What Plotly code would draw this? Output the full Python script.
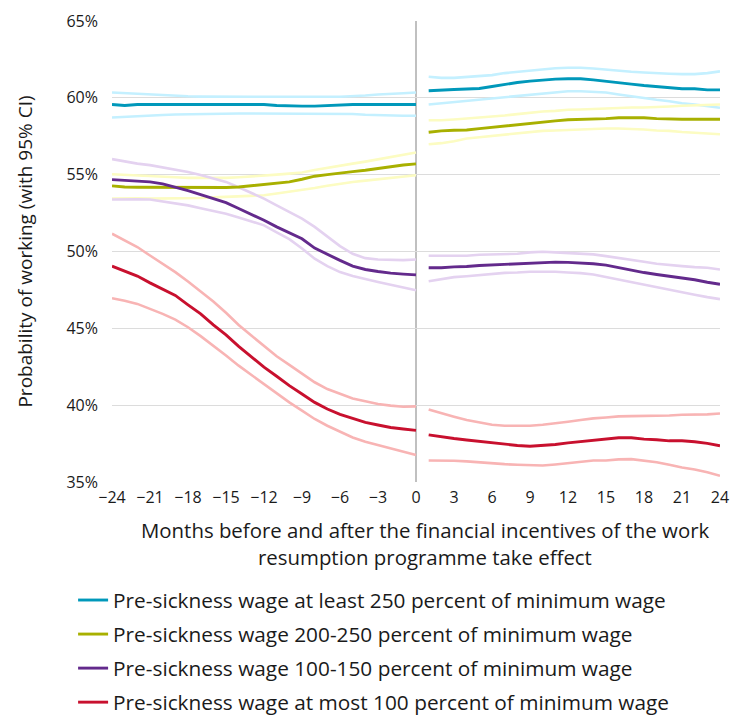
import plotly.graph_objects as go

# ---------------- data ----------------
months_pre = list(range(-24, 1))
months_post = list(range(1, 25))
x_ticks = list(range(-24, 25, 3))
y_ticks = [35, 40, 45, 50, 55, 60, 65]
y_tick_labels = ["35%", "40%", "45%", "50%", "55%", "60%", "65%"]

labels = [
    "Pre-sickness wage at least 250 percent of minimum wage",
    "Pre-sickness wage 200-250 percent of minimum wage",
    "Pre-sickness wage 100-150 percent of minimum wage",
    "Pre-sickness wage at most 100 percent of minimum wage",
]
x_title_lines = [
    "Months before and after the financial incentives of the work",
    "resumption programme take effect",
]
y_title = "Probability of working (with 95% CI)"

# >=250 %
w250_pre = [59.57, 59.50, 59.57, 59.57, 59.57, 59.57, 59.57, 59.57, 59.57, 59.57, 59.57, 59.57, 59.57,
            59.50, 59.46, 59.46, 59.46, 59.50, 59.57, 59.57, 59.57, 59.57, 59.57, 59.57, 59.57]
w250_pre_hi = [60.35, 60.30, 60.28, 60.22, 60.15, 60.12, 60.10, 60.08, 60.07, 60.07, 60.07, 60.07, 60.07,
               60.07, 60.06, 60.06, 60.06, 60.07, 60.07, 60.10, 60.15, 60.22, 60.28, 60.30, 60.35]
w250_pre_lo = [58.72, 58.75, 58.80, 58.83, 58.88, 58.92, 58.94, 58.96, 58.98, 58.98, 58.98, 58.98, 58.98,
               58.98, 58.98, 58.98, 58.98, 58.98, 58.98, 58.95, 58.90, 58.87, 58.84, 58.83, 58.83]
w250_post = [60.46, 60.52, 60.54, 60.57, 60.61, 60.74, 60.89, 61.00, 61.09, 61.17, 61.22, 61.24,
             61.24, 61.17, 61.09, 60.98, 60.89, 60.80, 60.74, 60.65, 60.59, 60.59, 60.52, 60.52]
w250_post_hi = [61.37, 61.30, 61.30, 61.35, 61.39, 61.48, 61.61, 61.70, 61.78, 61.87, 61.93, 61.96,
                61.96, 61.91, 61.83, 61.76, 61.70, 61.65, 61.63, 61.57, 61.54, 61.54, 61.61, 61.72]
w250_post_lo = [59.57, 59.65, 59.74, 59.80, 59.87, 59.96, 60.04, 60.13, 60.22, 60.30, 60.39, 60.43,
                60.43, 60.39, 60.35, 60.22, 60.09, 59.96, 59.87, 59.78, 59.65, 59.57, 59.48, 59.35]

# 200-250 %
w200_pre = [54.27, 54.20, 54.18, 54.18, 54.16, 54.14, 54.14, 54.14, 54.16, 54.16, 54.20, 54.27, 54.35,
            54.44, 54.53, 54.70, 54.90, 55.00, 55.12, 55.20, 55.29, 55.40, 55.55, 55.63, 55.70]
w200_pre_hi = [55.03, 54.98, 54.95, 54.92, 54.88, 54.83, 54.79, 54.78, 54.78, 54.79, 54.83, 54.88, 54.92,
               55.00, 55.07, 55.14, 55.30, 55.45, 55.60, 55.72, 55.85, 56.00, 56.15, 56.30, 56.44]
w200_pre_lo = [53.44, 53.46, 53.46, 53.44, 53.44, 53.44, 53.44, 53.48, 53.52, 53.55, 53.58, 53.62, 53.66,
               53.77, 53.88, 53.99, 54.13, 54.28, 54.42, 54.52, 54.61, 54.70, 54.80, 54.88, 54.96]
w200_post = [57.76, 57.85, 57.89, 57.91, 58.00, 58.09, 58.18, 58.26, 58.35, 58.44, 58.50, 58.57,
             58.59, 58.61, 58.65, 58.70, 58.70, 58.70, 58.65, 58.61, 58.61, 58.61, 58.61, 58.61]
w200_post_hi = [58.54, 58.54, 58.59, 58.65, 58.70, 58.76, 58.85, 58.94, 59.04, 59.11, 59.15, 59.22,
                59.24, 59.28, 59.30, 59.35, 59.37, 59.37, 59.39, 59.44, 59.48, 59.52, 59.54, 59.57]
w200_post_lo = [56.98, 57.05, 57.18, 57.35, 57.44, 57.52, 57.61, 57.70, 57.78, 57.85, 57.87, 57.91,
                57.96, 58.00, 58.00, 58.00, 57.98, 57.94, 57.87, 57.85, 57.78, 57.74, 57.70, 57.63]

# 100-150 %
w100_pre = [54.68, 54.63, 54.58, 54.53, 54.40, 54.20, 53.96, 53.70, 53.45, 53.18, 52.80, 52.42, 52.03,
            51.60, 51.20, 50.83, 50.22, 49.80, 49.42, 49.05, 48.83, 48.70, 48.59, 48.53, 48.48]
w100_pre_hi = [56.01, 55.85, 55.72, 55.62, 55.48, 55.33, 55.18, 54.98, 54.76, 54.53, 54.18, 53.82, 53.44,
               53.00, 52.58, 52.14, 51.60, 51.00, 50.35, 49.85, 49.57, 49.48, 49.44, 49.44, 49.48]
w100_pre_lo = [53.38, 53.40, 53.40, 53.38, 53.25, 53.12, 53.00, 52.82, 52.65, 52.46, 52.22, 51.97, 51.70,
               51.25, 50.80, 50.20, 49.53, 49.05, 48.66, 48.40, 48.18, 48.01, 47.83, 47.64, 47.48]
w100_post = [48.94, 48.94, 49.00, 49.02, 49.09, 49.13, 49.18, 49.20, 49.26, 49.29, 49.31, 49.29,
             49.26, 49.20, 49.11, 48.94, 48.76, 48.63, 48.50, 48.39, 48.24, 48.16, 48.00, 47.87]
w100_post_hi = [49.72, 49.72, 49.72, 49.72, 49.79, 49.81, 49.81, 49.85, 49.94, 49.98, 49.94, 49.89,
                49.87, 49.81, 49.70, 49.59, 49.46, 49.33, 49.20, 49.11, 49.05, 48.98, 48.94, 48.83]
w100_post_lo = [48.07, 48.22, 48.33, 48.39, 48.46, 48.55, 48.61, 48.63, 48.68, 48.68, 48.68, 48.63,
                48.59, 48.50, 48.33, 48.20, 48.03, 47.85, 47.68, 47.50, 47.33, 47.18, 47.03, 46.90]

# <=100 %
w0_pre = [49.05, 48.75, 48.40, 47.96, 47.53, 47.14, 46.53, 45.94, 45.22, 44.57, 43.83, 43.12, 42.47,
          41.88, 41.27, 40.73, 40.18, 39.75, 39.40, 39.14, 38.88, 38.71, 38.55, 38.45, 38.36]
w0_pre_hi = [51.16, 50.70, 50.29, 49.74, 49.20, 48.66, 48.05, 47.40, 46.75, 46.01, 45.22, 44.53, 43.83,
             43.18, 42.62, 42.03, 41.49, 41.05, 40.73, 40.44, 40.25, 40.07, 39.97, 39.90, 39.92]
w0_pre_lo = [46.96, 46.80, 46.59, 46.27, 45.94, 45.57, 45.07, 44.49, 43.88, 43.23, 42.57, 41.97, 41.38,
             40.79, 40.18, 39.64, 39.10, 38.66, 38.27, 37.90, 37.62, 37.40, 37.18, 36.97, 36.75]
w0_post = [38.07, 37.94, 37.83, 37.73, 37.64, 37.55, 37.47, 37.38, 37.33, 37.36, 37.44, 37.55,
           37.64, 37.73, 37.81, 37.88, 37.88, 37.79, 37.75, 37.68, 37.68, 37.62, 37.51, 37.36]
w0_post_hi = [39.72, 39.46, 39.25, 39.03, 38.86, 38.73, 38.66, 38.66, 38.66, 38.73, 38.81, 38.92,
              39.03, 39.14, 39.20, 39.27, 39.29, 39.29, 39.29, 39.33, 39.38, 39.38, 39.40, 39.46]
w0_post_lo = [36.40, 36.40, 36.38, 36.34, 36.27, 36.21, 36.16, 36.12, 36.10, 36.07, 36.14, 36.22,
              36.34, 36.40, 36.40, 36.47, 36.49, 36.38, 36.29, 36.12, 35.94, 35.81, 35.64, 35.40]

main_colors = ["#0098BA", "#A8B000", "#632A8C", "#C8102E"]
ci_colors = ["#C4F0FF", "#FCFCC2", "#E4D2F0", "#F8B4B4"]

series = [
    (w250_pre, w250_pre_lo, w250_pre_hi, w250_post, w250_post_lo, w250_post_hi),
    (w200_pre, w200_pre_lo, w200_pre_hi, w200_post, w200_post_lo, w200_post_hi),
    (w100_pre, w100_pre_lo, w100_pre_hi, w100_post, w100_post_lo, w100_post_hi),
    (w0_pre, w0_pre_lo, w0_pre_hi, w0_post, w0_post_lo, w0_post_hi),
]

FONT = "Open Sans"
TXT = "#1a1a1a"
x_all = months_pre + [None] + months_post

fig = go.Figure()

# confidence bands first
for i, (pre, pre_lo, pre_hi, post, post_lo, post_hi) in enumerate(series):
    for lo_hi in ((pre_lo, post_lo), (pre_hi, post_hi)):
        fig.add_trace(go.Scatter(
            x=x_all, y=list(lo_hi[0]) + [None] + list(lo_hi[1]),
            mode="lines", line=dict(color=ci_colors[i], width=2.6),
            showlegend=False, legendgroup=f"g{i}", hoverinfo="skip",
        ))

# main lines
for i, (pre, pre_lo, pre_hi, post, post_lo, post_hi) in enumerate(series):
    fig.add_trace(go.Scatter(
        x=x_all, y=list(pre) + [None] + list(post),
        mode="lines", line=dict(color=main_colors[i], width=2.9),
        name=labels[i], legendgroup=f"g{i}",
    ))

fig.add_shape(type="line", xref="x", yref="y", x0=0, x1=0, y0=35, y1=65,
              line=dict(color="#C0C0C0", width=2), layer="below")

for txt, yy in zip(x_title_lines, [-0.1041, -0.1627]):
    fig.add_annotation(
        text=txt, xref="paper", yref="paper", x=0.515, y=yy,
        xanchor="center", yanchor="middle", showarrow=False,
        font=dict(family=FONT, size=20.4, color=TXT),
    )

fig.update_layout(
    width=731, height=715,
    margin=dict(l=112, r=11, t=21, b=233, autoexpand=False),
    paper_bgcolor="white", plot_bgcolor="white",
    font=dict(family=FONT, color=TXT),
    showlegend=True,
    legend=dict(
        orientation="v",
        x=-0.064, y=-0.2126, xanchor="left", yanchor="top",
        font=dict(family=FONT, size=20.8, color=TXT),
        tracegroupgap=4, traceorder="grouped",
        bgcolor="rgba(0,0,0,0)",
    ),
    xaxis=dict(
        range=[-24, 24], tickmode="array", tickvals=x_ticks,
        showgrid=False, zeroline=False, showline=False, ticks="",
        tickfont=dict(family=FONT, size=16, color=TXT),
        ticklabelstandoff=4, automargin=False,
    ),
    yaxis=dict(
        range=[35, 65], tickmode="array", tickvals=y_ticks, ticktext=y_tick_labels,
        showgrid=True, gridcolor="#DCDCDC", gridwidth=1.3, zeroline=False, showline=False, ticks="",
        tickfont=dict(family=FONT, size=16, color=TXT),
        ticklabelstandoff=13, automargin=False,
        title=dict(text=y_title, font=dict(family=FONT, size=19, color=TXT), standoff=28),
    ),
)

fig.write_html("out.html", config={"displayModeBar": False},
               post_script="document.body.style.margin='0px';")
